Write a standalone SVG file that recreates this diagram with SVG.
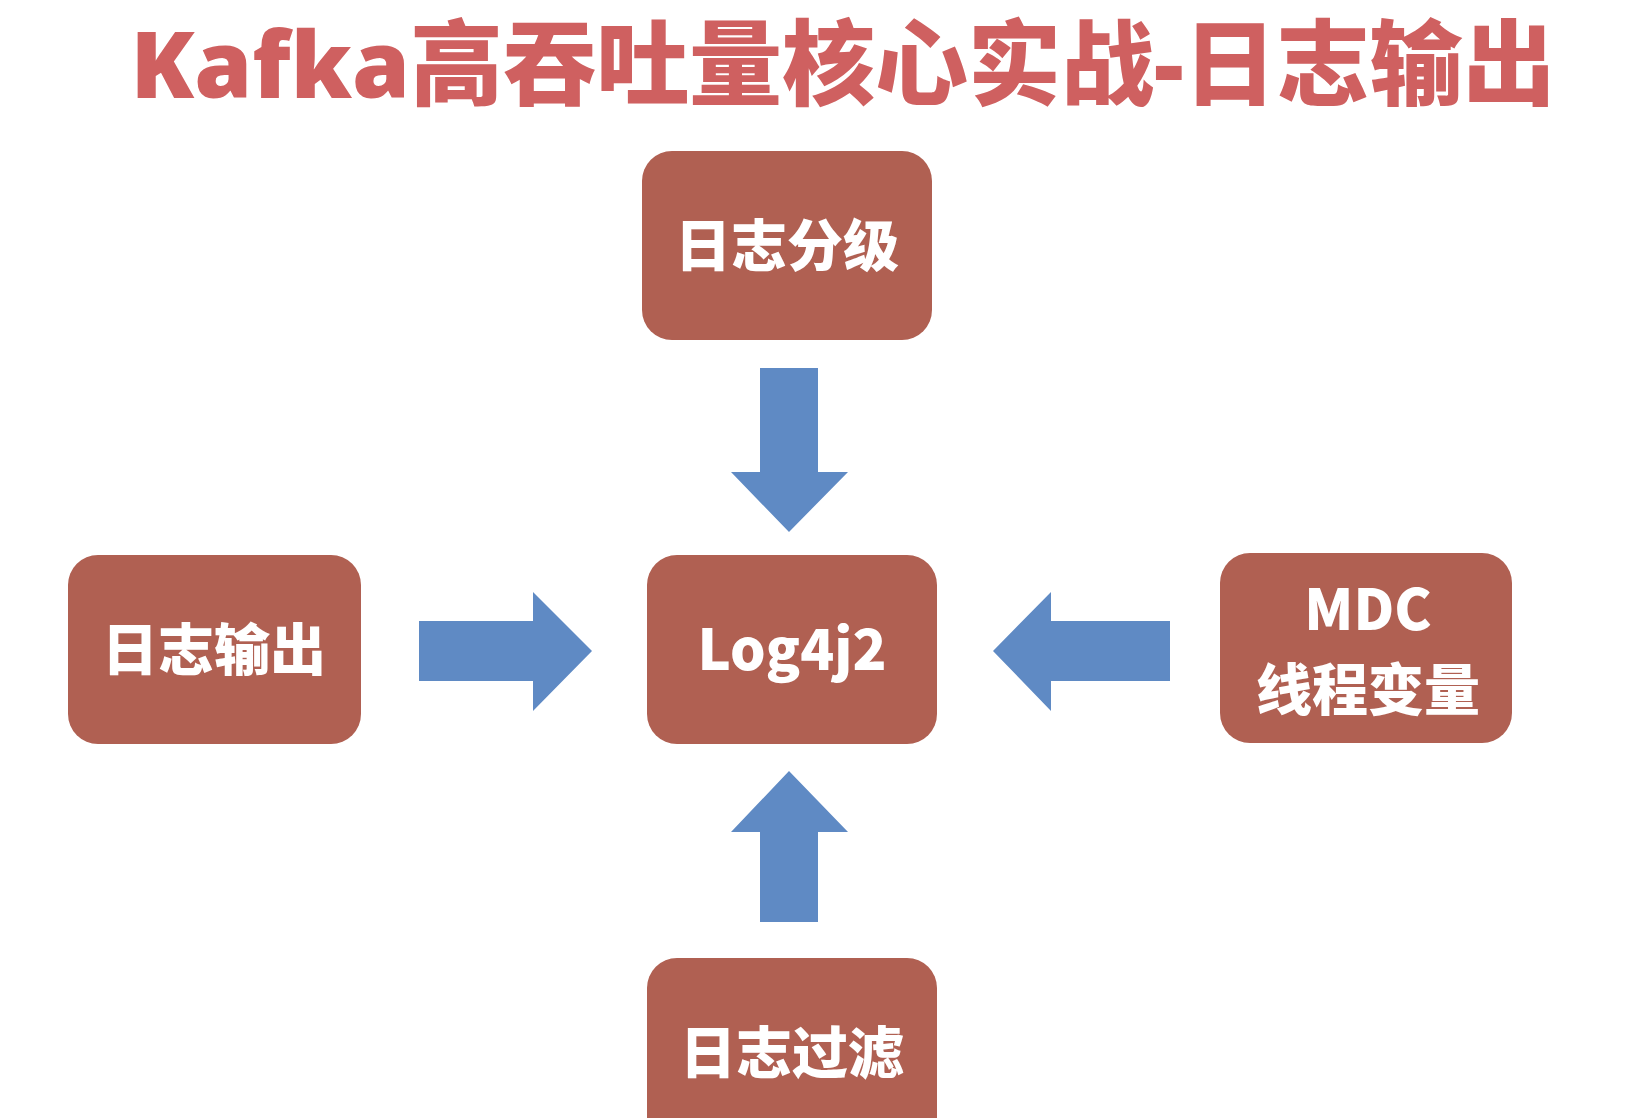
<svg xmlns="http://www.w3.org/2000/svg" width="1628" height="1118" viewBox="0 0 1628 1118">
<style>
.box{fill:#B06052}
.lbl{fill:#fff;font-family:"Noto Sans CJK SC","Open Sans",sans-serif;font-weight:900;font-size:56px;text-anchor:middle}
.arr{fill:#5F8AC4}
</style>
<rect width="1628" height="1118" fill="#fff"/>
<text x="843" y="98" text-anchor="middle" font-family="'Open Sans','Noto Sans CJK SC',sans-serif" font-weight="900" font-size="93" fill="#CF6060">Kafka高吞吐量核心实战-日志输出</text>
<g id="connectors">
<polygon class="arr" points="760,368 818,368 818,472 848,472 789,532 731,472 760,472"/>
<polygon class="arr" points="760,922 818,922 818,832 848,832 789,771 731,832 760,832"/>
<polygon class="arr" points="419,621 533,621 533,592 592,651 533,711 533,681 419,681"/>
<polygon class="arr" points="1170,621 1051,621 1051,592 993,651 1051,711 1051,681 1170,681"/>
</g>
<g id="n-top"><rect class="box" x="642" y="151" width="290" height="189" rx="30"/><text class="lbl" x="787" y="266">日志分级</text></g>
<g id="n-center"><rect class="box" x="647" y="555" width="290" height="189" rx="30"/><text class="lbl" x="792" y="670">Log4j2</text></g>
<g id="n-left"><rect class="box" x="68" y="555" width="293" height="189" rx="30"/><text class="lbl" x="214" y="670">日志输出</text></g>
<g id="n-right"><rect class="box" x="1220" y="553" width="292" height="190" rx="30"/><text class="lbl" x="1368" y="630" font-size="54">MDC</text><text class="lbl" x="1368" y="710">线程变量</text></g>
<g id="n-bottom"><rect class="box" x="647" y="958" width="290" height="200" rx="30"/><text class="lbl" x="792" y="1073">日志过滤</text></g>
</svg>
